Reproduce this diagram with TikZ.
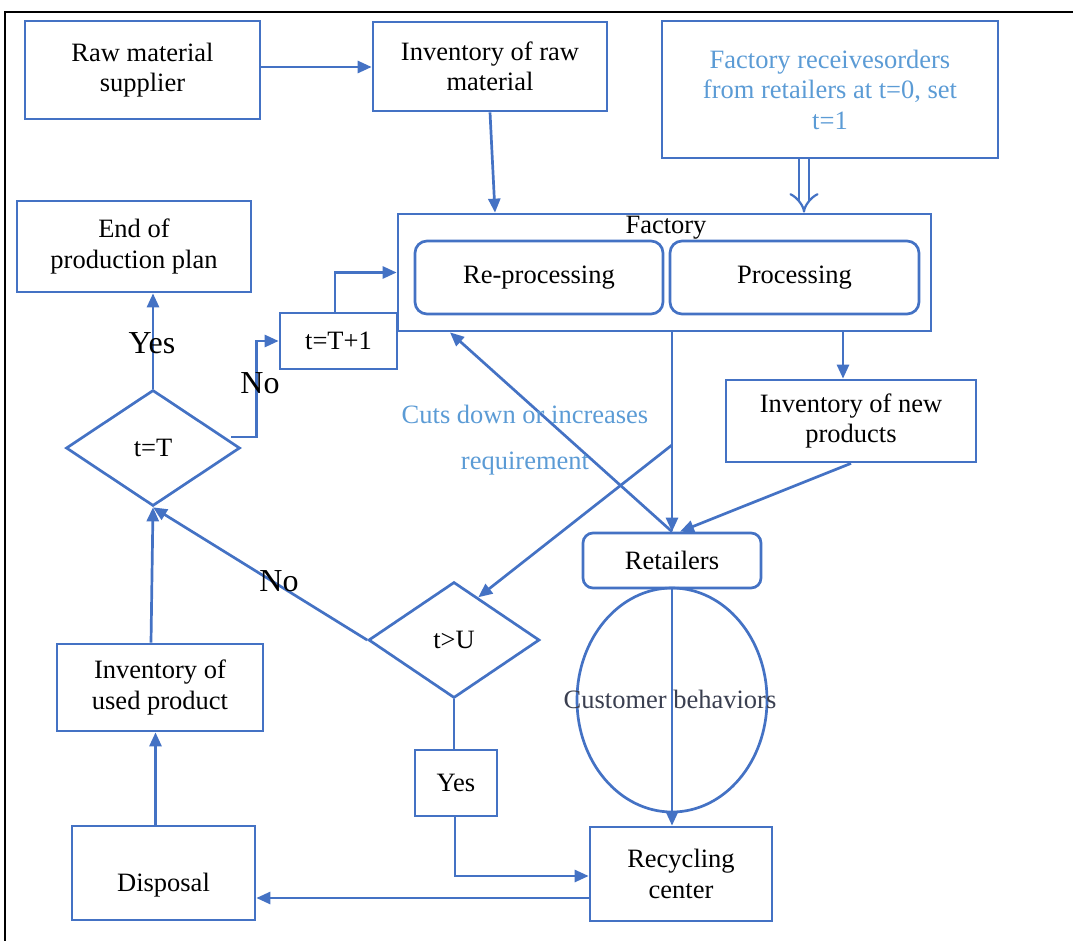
\documentclass[tikz,border=0pt]{standalone}
\usepackage{fontspec}
\setmainfont{Liberation Serif}
\usetikzlibrary{arrows.meta,shapes.geometric,calc}
\definecolor{lb}{HTML}{4472C4}
\definecolor{tb}{HTML}{5B9BD5}
\definecolor{cg}{HTML}{3A3F50}
\begin{document}
\begin{tikzpicture}[x=1pt,y=-1pt,
  every node/.style={font=\fontsize{26.5}{30.5}\selectfont},
  box/.style={draw=lb, line width=2.7pt, align=center, inner sep=0pt},
  rbox/.style={box, rounded corners=12pt},
  dia/.style={draw=lb, line width=2.7pt, diamond, inner sep=0pt},
  arr/.style={draw=lb, line width=2.7pt, -{Triangle[length=14pt,width=12pt]}},
  ln/.style={draw=lb, line width=2.7pt},
  lbl/.style={font=\fontsize{32}{36}\selectfont}]
\useasboundingbox (0,0) rectangle (1073,941);
% outer frame
\draw[black, line width=1.5pt] (5,941) -- (5,12) -- (1073,12);

% nodes
\node[box, minimum width=235pt, minimum height=98pt] (raw) at (142.5,70) {Raw material\\supplier};
\node[box, minimum width=234pt, minimum height=89pt] (invraw) at (490,66.5) {Inventory of raw\\material};
\node[box, minimum width=336pt, minimum height=137pt, text=tb] (orders) at (830,89.5) {Factory receivesorders\\from retailers at t=0, set\\t=1};
\node[box, minimum width=533pt, minimum height=117pt] (factory) at (664.5,272.5) {};
\node (flabel) at (666,228) {Factory};
\node[rbox, minimum width=248pt, minimum height=73pt] (reproc) at (539,277.5) {Re-processing};
\node[rbox, minimum width=249pt, minimum height=73pt] (proc) at (794.5,277.5) {Processing};
\node[box, minimum width=234pt, minimum height=91pt] (endp) at (134,246.5) {End of\\production plan};
\node[box, minimum width=117pt, minimum height=56pt] (tT1) at (338.5,341) {t=T+1};
\node[dia, minimum width=174pt, minimum height=116pt] (tT) at (153,448) {t=T};
\node[box, minimum width=250pt, minimum height=82pt] (newinv) at (851,421) {Inventory of new\\products};
\node[rbox, rounded corners=10pt, minimum width=178pt, minimum height=55pt] (retail) at (672,560.5) {Retailers};
\node[draw=lb, line width=2.7pt, ellipse, minimum width=190pt, minimum height=224pt, inner sep=0pt] (ell) at (672,700) {};
\node[dia, minimum width=171pt, minimum height=116pt] (tU) at (454,640) {t>U};
\node[box, minimum width=82pt, minimum height=66pt] (yes) at (456,783) {Yes};
\node[box, minimum width=182pt, minimum height=94pt] (recyc) at (681,874) {Recycling\\center};
\node[box, minimum width=183pt, minimum height=94pt] (disp) at (163.5,873) {};
\node (disptext) at (163.5,885) {Disposal};
\node[box, minimum width=206pt, minimum height=87pt] (used) at (160,687.5) {Inventory of\\used product};

% connectors
\draw[arr] ([yshift=3pt]raw.east) -- ([yshift=3pt]raw.east -| invraw.west);
\draw[arr] (invraw.south) -- ([xshift=5pt]invraw.south |- factory.north);
\draw[lb, line width=2.2pt, double=white, double distance=8pt, -{Implies}] ([xshift=-26pt]orders.south) -- ([xshift=-26pt]orders.south |- factory.north);
\draw[arr] ([xshift=-3.5pt]tT1.north) |- (factory.west);
\draw[arr] ([shift={(-10,-11)}]tT.east) -- ++(25,0) |- (tT1.west);
\node[lbl] (no1) at (260,383) {No};
\draw[arr] (tT.north) -- (tT.north |- endp.south);
\node[lbl] (yes1) at (152,343) {Yes};
\draw[arr] ([xshift=-8pt]newinv.north |- factory.south) -- ([xshift=-8pt]newinv.north);
\draw[arr] (retail.north |- factory.south) -- (retail.north);
\draw[arr] (newinv.south) -- ([xshift=8pt]retail.north);
\draw[arr] (retail.north) -- ([xshift=-214.5pt]factory.south);
\coordinate (branch) at (672,445);
\draw[arr] (branch) -- ($(tU.north)!0.28!(tU.east)$);
\node[text=tb] (cuts) at (525,414) {Cuts down or increases};
\node[text=tb] (req) at (525,464) {requirement};
\draw[arr] (retail.south) -- (retail.south |- recyc.north);
\node[text=cg] (cb) at (670,699) {Customer behaviors};
\draw[arr] (tU.west) -- (tT.south);
\node[lbl] (no2) at (279,581) {No};
\draw[ln] (tU.south) -- (tU.south |- yes.north);
\draw[arr] ([xshift=-1pt]yes.south) |- ([yshift=-2pt]recyc.west);
\draw[arr] ([yshift=-24pt]recyc.west) -- ([yshift=-24pt]recyc.west -| disp.east);
\draw[arr] ([xshift=-8pt]disp.north) -- ([xshift=-8pt]disp.north |- used.south);
\draw[arr] ([xshift=-9pt]used.north) -- (tT.south);
\end{tikzpicture}
\end{document}
